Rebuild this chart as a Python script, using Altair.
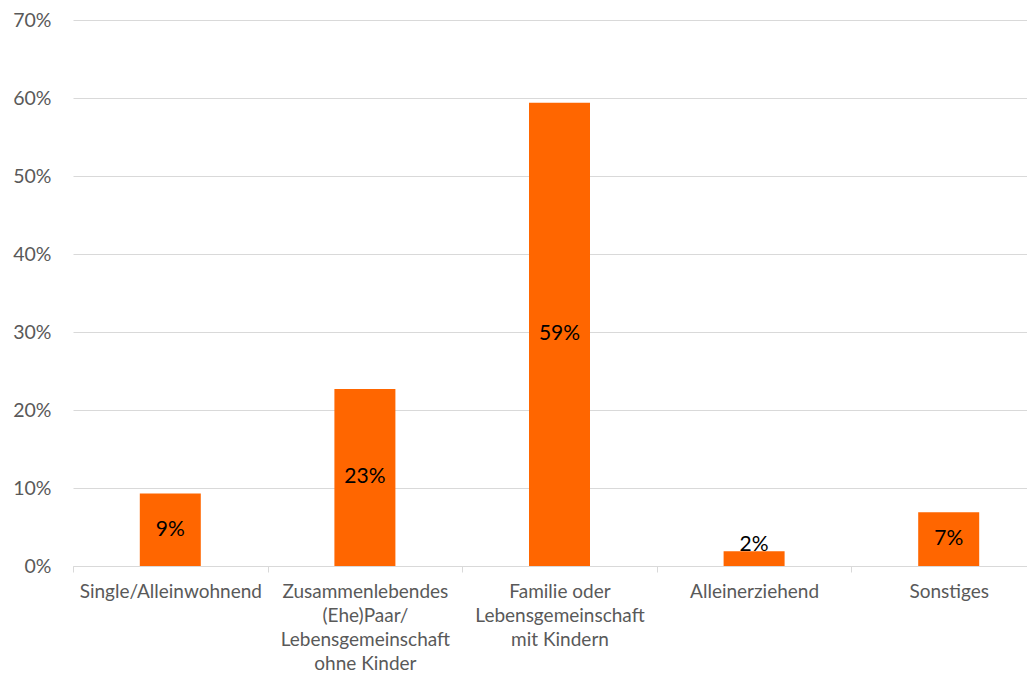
import altair as alt
import pandas as pd

categories = [
    "Single/Alleinwohnend",
    "Zusammenlebendes|(Ehe)Paar/|Lebensgemeinschaft|ohne Kinder",
    "Familie oder|Lebensgemeinschaft|mit Kindern",
    "Alleinerziehend",
    "Sonstiges",
]
values = [0.093, 0.227, 0.594, 0.019, 0.069]
y_ticks = [0, 0.1, 0.2, 0.3, 0.4, 0.5, 0.6, 0.7]

df = pd.DataFrame({"cat": categories, "val": values})

FONT = "Lato"
GRAY = "#595959"
LINE = "#d9d9d9"

x = alt.X(
    "cat:N",
    sort=categories,
    title=None,
    scale=alt.Scale(paddingInner=0, paddingOuter=0, range=[0, 973]),
    axis=alt.Axis(
        labelAngle=0,
        labelExpr="split(datum.label, '|')",
        labelFont=FONT,
        labelFontSize=19,
        labelColor=GRAY,
        labelLineHeight=24.3,
        labelPadding=10,
        labelBaseline="top",
        labelLimit=0,
        tickBand="extent",
        tickColor=LINE,
        tickSize=6,
        domainColor=LINE,
        grid=False,
    ),
)

y = alt.Y(
    "val:Q",
    title=None,
    scale=alt.Scale(domain=[0, 0.7]),
    axis=alt.Axis(
        format=".0%",
        values=y_ticks,
        labelFont=FONT,
        labelFontSize=19.5,
        labelColor=GRAY,
        labelPadding=22,
        ticks=False,
        tickSize=0,
        domain=False,
        grid=True,
        gridColor=LINE,
    ),
)

bars = alt.Chart(df).mark_bar(color="#FF6600", size=61).encode(x=x, y=y)

labels = (
    alt.Chart(df)
    .transform_calculate(pos="max(datum.val / 2, 0.027)")
    .mark_text(font=FONT, fontSize=21, color="#000000", baseline="middle")
    .encode(
        x=alt.X("cat:N", sort=categories),
        y=alt.Y("pos:Q"),
        text=alt.Text("val:Q", format=".0%"),
    )
)

chart = (
    alt.layer(bars, labels)
    .properties(
        width=954,
        height=546,
        autosize=alt.AutoSizeParams(type="none"),
        padding={"left": 65, "top": 12, "right": 0, "bottom": 107},
    )
    .configure_view(stroke=None)
)

chart.save("out.html", embed_options={"renderer": "svg", "actions": False})
